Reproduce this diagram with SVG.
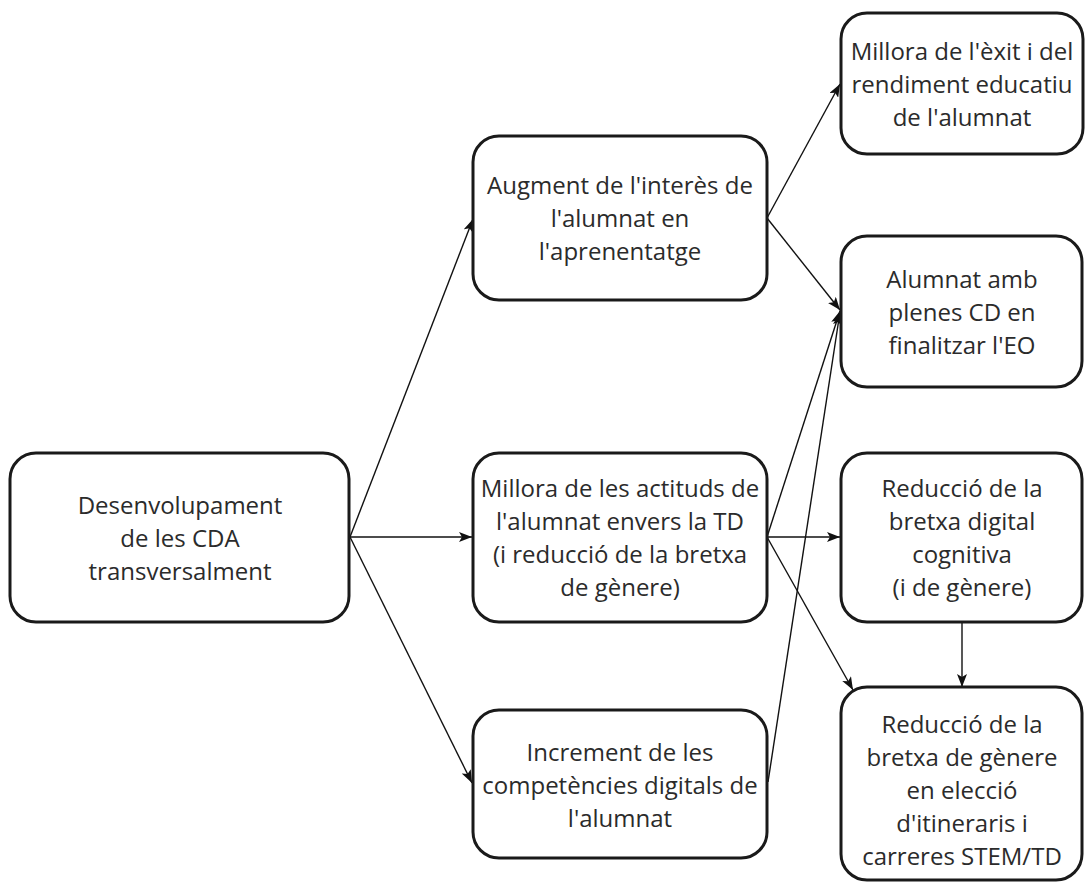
<svg xmlns="http://www.w3.org/2000/svg" width="1085" height="889" viewBox="0 0 1085 889">
<style>
.box{fill:#fff;stroke:#1a1a1a;stroke-width:3}
.t{font-family:"Open Sans","Noto Sans",sans-serif;font-size:24px;fill:#2b2b2b;text-anchor:middle}
.c{fill:none;stroke:#111;stroke-width:1.4}
</style>
<defs>
<marker id="arr" markerUnits="userSpaceOnUse" markerWidth="14" markerHeight="10" refX="13" refY="5" orient="auto">
<path d="M0,0 L13,5 L0,10 L3,5 z" fill="#111"/>
</marker>
</defs>
<rect width="1085" height="889" fill="#fff"/>
<g id="connectors">
<line class="c" x1="350" y1="537" x2="473" y2="219" marker-end="url(#arr)"/>
<line class="c" x1="350" y1="537" x2="472" y2="537" marker-end="url(#arr)"/>
<line class="c" x1="350" y1="537" x2="472" y2="783" marker-end="url(#arr)"/>
<line class="c" x1="767" y1="218" x2="840" y2="84" marker-end="url(#arr)"/>
<line class="c" x1="767" y1="218" x2="840" y2="310" marker-end="url(#arr)"/>
<line class="c" x1="767" y1="537" x2="840" y2="311" marker-end="url(#arr)"/>
<line class="c" x1="767" y1="537" x2="840" y2="537" marker-end="url(#arr)"/>
<line class="c" x1="767" y1="537" x2="853" y2="690" marker-end="url(#arr)"/>
<line class="c" x1="768" y1="782" x2="840" y2="312" marker-end="url(#arr)"/>
<line class="c" x1="962" y1="622" x2="962" y2="687" marker-end="url(#arr)"/>
</g>
<g id="nodeA">
<rect class="box" x="10" y="453" width="339" height="169" rx="26"/>
<text class="t" x="180" y="514">Desenvolupament</text>
<text class="t" x="180" y="547">de les CDA</text>
<text class="t" x="180" y="580">transversalment</text>
</g>
<g id="nodeB">
<rect class="box" x="473" y="136" width="294" height="164" rx="26"/>
<text class="t" x="620" y="194">Augment de l'interès de</text>
<text class="t" x="620" y="227">l'alumnat en</text>
<text class="t" x="620" y="260">l'aprenentatge</text>
</g>
<g id="nodeC">
<rect class="box" x="473" y="453" width="294" height="169" rx="26"/>
<text class="t" x="620" y="497">Millora de les actituds de</text>
<text class="t" x="620" y="530">l'alumnat envers la TD</text>
<text class="t" x="620" y="563">(i reducció de la bretxa</text>
<text class="t" x="620" y="596">de gènere)</text>
</g>
<g id="nodeD">
<rect class="box" x="473" y="710" width="294" height="148" rx="26"/>
<text class="t" x="620" y="761">Increment de les</text>
<text class="t" x="620" y="794">competències digitals de</text>
<text class="t" x="620" y="827">l'alumnat</text>
</g>
<g id="nodeE">
<rect class="box" x="841" y="13" width="242" height="141" rx="26"/>
<text class="t" x="962" y="60">Millora de l'èxit i del</text>
<text class="t" x="962" y="93">rendiment educatiu</text>
<text class="t" x="962" y="126">de l'alumnat</text>
</g>
<g id="nodeF">
<rect class="box" x="841" y="236" width="241" height="151" rx="26"/>
<text class="t" x="962" y="288">Alumnat amb</text>
<text class="t" x="962" y="321">plenes CD en</text>
<text class="t" x="962" y="354">finalitzar l'EO</text>
</g>
<g id="nodeG">
<rect class="box" x="841" y="453" width="241" height="169" rx="26"/>
<text class="t" x="962" y="497">Reducció de la</text>
<text class="t" x="962" y="530">bretxa digital</text>
<text class="t" x="962" y="563">cognitiva</text>
<text class="t" x="962" y="596">(i de gènere)</text>
</g>
<g id="nodeH">
<rect class="box" x="841" y="687" width="241" height="193" rx="26"/>
<text class="t" x="962" y="733">Reducció de la</text>
<text class="t" x="962" y="766">bretxa de gènere</text>
<text class="t" x="962" y="799">en elecció</text>
<text class="t" x="962" y="832">d'itineraris i</text>
<text class="t" x="962" y="865">carreres STEM/TD</text>
</g>
</svg>
